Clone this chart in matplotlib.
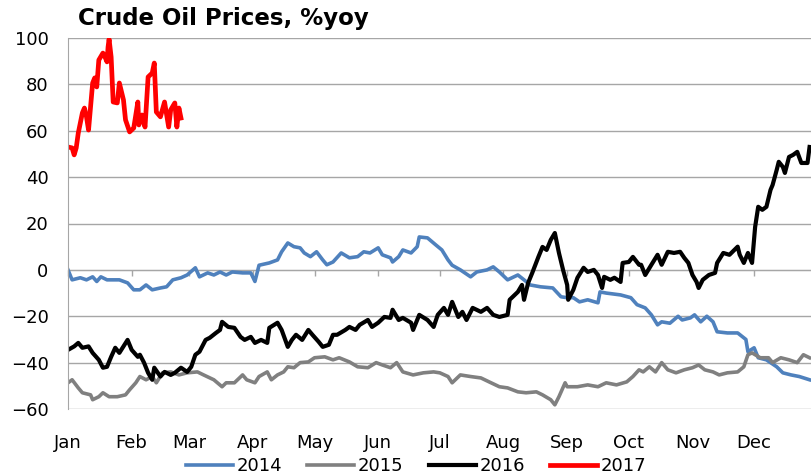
import matplotlib
matplotlib.use('Agg')
import matplotlib.pyplot as plt

plt.rcParams['font.family'] = ['DejaVu Sans']

# month starts (day of year) and labels
month_days = [0, 31, 59, 90, 120, 151, 181, 212, 243, 273, 304, 334]
month_labels = ['Jan', 'Feb', 'Mar', 'Apr', 'May', 'Jun',
                'Jul', 'Aug', 'Sep', 'Oct', 'Nov', 'Dec']

# (day of year, %yoy)
oil_2014 = [(0, 0), (2, -4.3), (6, -3.4), (9, -4.3), (12, -3), (14, -5), (16, -3), (19, -4.3),
            (22, -4.3), (25, -4.3), (29, -5.6), (32, -8.6), (35, -8.6), (38, -6.5), (41, -8.6),
            (45, -7.8), (48, -7.3), (51, -4.3), (55, -3.4), (58, -2.2), (62, 0.9), (64, -3),
            (68, -1.3), (71, -2.2), (74, -0.9), (77, -2.2), (80, -0.9), (85, -1.3), (89, -1.3),
            (91, -5), (93, 2), (98, 3), (102, 4.3), (104, 7.8), (107, 11.6), (110, 10),
            (113, 9.5), (115, 7.3), (118, 5.7), (121, 7.8), (124, 4.3), (126, 2.2), (129, 3.4),
            (133, 7.3), (137, 5.2), (141, 5.7), (144, 7.8), (147, 7.3), (151, 9.5), (153, 6.5),
            (157, 5.2), (158, 3.4), (161, 5.7), (163, 8.6), (167, 7.3), (170, 10), (171, 14.2),
            (175, 13.8), (179, 10.8), (182, 8.6), (185, 4.3), (187, 2), (191, 0), (196, -3),
            (199, -0.9), (204, 0), (207, 1.3), (210, -0.9), (214, -4.3), (219, -2.2),
            (222, -4.3), (225, -6.5), (230, -7.3), (236, -7.8), (240, -11.6), (243, -12),
            (246, -12), (249, -13.8), (253, -12.9), (258, -14.2), (259, -9.5), (262, -10),
            (269, -10.8), (274, -12), (277, -15), (281, -16.4), (284, -19.4), (287, -23.7),
            (289, -22.4), (293, -23), (297, -20), (299, -21.6), (303, -20.7), (305, -19.4),
            (308, -22.4), (311, -20), (314, -22.4), (316, -26.7), (321, -27.2), (326, -27.2),
            (330, -30), (331, -35.3), (334, -33.6), (336, -37.9), (340, -38.8), (345, -41.8),
            (348, -44.4), (352, -45.3), (356, -46), (361, -47.4)]

oil_2015 = [(0, -48.7), (2, -47.4), (5, -50.9), (7, -53), (11, -53.9), (12, -56), (15, -54.7),
            (17, -53), (20, -54.7), (24, -54.7), (28, -53.9), (30, -51.7), (33, -48.7),
            (35, -46), (38, -47.4), (41, -46), (43, -48.7), (46, -44.4), (50, -44), (54, -45.3),
            (58, -44.4), (63, -44), (66, -45.3), (71, -47.4), (75, -50.4), (77, -48.7),
            (81, -48.7), (85, -45.3), (87, -47.4), (91, -48.7), (93, -46), (97, -44),
            (99, -47.4), (102, -45.3), (105, -44), (107, -41.8), (110, -42.2), (113, -40),
            (117, -39.7), (120, -37.9), (125, -37.5), (129, -38.8), (132, -37.9), (137, -39.7),
            (141, -41.8), (146, -42.2), (150, -40), (153, -41), (157, -42.2), (160, -40),
            (163, -44), (168, -45.3), (173, -44.4), (178, -44), (181, -44.4), (185, -46),
            (187, -48.7), (191, -45.3), (196, -46), (201, -46.6), (205, -48.3), (210, -50.4),
            (214, -50.9), (219, -52.6), (223, -53), (228, -52.6), (231, -53.9), (235, -56),
            (237, -58.2), (239, -54.7), (242, -48.7), (243, -50.4), (248, -50.4), (253, -49.6),
            (258, -50.4), (262, -48.7), (267, -49.6), (272, -48.3), (275, -46), (278, -43.1),
            (280, -44), (283, -41.8), (286, -44), (289, -40), (292, -43.1), (296, -44.4),
            (300, -43.1), (304, -42.2), (307, -41), (310, -43.1), (314, -44), (317, -45.3),
            (321, -44.4), (326, -44), (329, -41.8), (331, -36.6), (333, -35.8), (337, -37.9),
            (341, -37.9), (343, -40), (347, -37.9), (351, -38.8), (355, -40), (358, -36.6),
            (361, -37.9)]

oil_2016 = [(0, -34.5), (3, -33), (5, -31.5), (7, -33.6), (10, -33), (12, -35.8), (15, -38.8),
            (17, -42.2), (19, -41.8), (21, -37.5), (23, -33.6), (25, -35.8), (29, -30.2),
            (31, -34.5), (34, -37.5), (35, -36.6), (37, -40), (39, -44.4), (41, -47.4),
            (42, -42.2), (45, -46), (47, -44), (50, -45.3), (52, -44.4), (55, -42.2), (58, -44),
            (60, -41.8), (62, -36.6), (64, -35.3), (67, -30.2), (69, -29.3), (72, -27.2),
            (74, -25.9), (75, -22.4), (78, -24.6), (81, -25), (84, -28.9), (86, -30.2),
            (89, -28.9), (91, -31.5), (94, -30.2), (97, -31.5), (98, -25), (102, -22.8),
            (104, -25.9), (107, -33.2), (109, -30.2), (111, -28), (114, -30.2), (117, -25.9),
            (119, -28), (122, -31), (124, -33.2), (127, -32.3), (129, -28), (131, -28),
            (135, -25.9), (137, -24.6), (140, -25.9), (142, -23.7), (146, -21.6), (148, -24.6),
            (151, -22.8), (154, -20.3), (157, -20.7), (158, -17.2), (161, -21.6), (163, -20.7),
            (167, -22.8), (168, -25.9), (171, -19.4), (175, -21.6), (178, -24.6), (180, -19.4),
            (183, -16.4), (185, -19.4), (187, -13.8), (190, -20.3), (192, -18.1), (194, -21.6),
            (197, -16.4), (201, -18.1), (204, -16.4), (207, -19.4), (210, -20.3), (214, -19.4),
            (215, -12.9), (219, -9.5), (221, -6.5), (222, -12.9), (224, -5.6), (226, -1.3),
            (229, 5.6), (231, 9.9), (233, 8.6), (235, 12.9), (237, 15.9), (239, 7.3), (241, 0),
            (243, -6.5), (243.5, -12.9), (246, -8.6), (248, -3.4), (251, 0.9), (253, -0.9),
            (256, 0), (258, -2.2), (260, -7.8), (261, -3), (264, -4.3), (266, -3.4), (269, -5.2),
            (270, 3), (273, 3.4), (275, 5.6), (278, 2.2), (279, 2.2), (281, -2.2), (284, 2.2),
            (287, 6.5), (289, 2.2), (292, 7.8), (295, 7.3), (298, 7.8), (300, 5.2), (302, 3),
            (304, -2.2), (306, -5.2), (307, -7.8), (309, -4.3), (312, -2.2), (315, -1.3),
            (316, 3), (319, 7.3), (322, 6.5), (326, 10), (327, 6.5), (329, 3), (331, 7.3),
            (333, 3), (334.5, 18.5), (336, 27.2), (338, 25.9), (340, 27.2), (342, 34.5),
            (343, 36.6), (345, 43.1), (346, 46.6), (348, 44.4), (349, 41.8), (351, 48.7),
            (353, 49.6), (355, 50.9), (357, 46.1), (360, 46.1), (361, 53)]

oil_2017 = [(0, 53), (2, 52.6), (3, 49.6), (4, 52.6), (5, 59), (7, 67.7), (8, 69.8), (9, 66),
            (10, 60.3), (12, 80.6), (13, 82.8), (14, 78.9), (15, 90.5), (17, 93.5), (18, 91.8),
            (19, 89.7), (19.5, 96.1), (20, 99.5), (21, 91.8), (22, 72.4), (24, 72), (25, 80.6),
            (27, 73.3), (28, 64.7), (30, 59.5), (32, 61.2), (34, 72.4), (34.5, 62.5), (36, 66.8),
            (37.5, 61.6), (39, 83.2), (41, 84.9), (42, 89.2), (43, 68.1), (45, 66), (47, 72.4),
            (49, 61.6), (50, 69), (52, 72), (53, 61.6), (54, 69.8), (55, 65.5)]

series = [('2014', oil_2014, '#4F81BD', 2.6),
          ('2015', oil_2015, '#808080', 2.6),
          ('2016', oil_2016, '#000000', 3.0),
          ('2017', oil_2017, '#FF0000', 3.4)]

fig = plt.figure(figsize=(8.11, 4.76), dpi=100)
ax = fig.add_axes([68 / 811, 67 / 476, 743 / 811, 371 / 476])

for name, pts, color, lw in series:
    x = [p[0] for p in pts]
    y = [p[1] for p in pts]
    ax.plot(x, y, color=color, lw=lw, label=name, solid_joinstyle='round')

ax.set_xlim(0, 361.7)
ax.set_ylim(-60, 100)
ax.set_yticks(range(-60, 101, 20))
ax.grid(axis='y', color='#A6A6A6', lw=1)
ax.set_axisbelow(True)
for s in ['top', 'right', 'bottom']:
    ax.spines[s].set_visible(False)
ax.spines['left'].set_color('#A6A6A6')
ax.tick_params(axis='y', length=0, pad=14, labelsize=13)
ax.set_xticks(month_days, month_labels)
ax.tick_params(axis='x', length=0, pad=18, labelsize=13)

# horizontal axis line crossing at zero with tick marks
sec = ax.secondary_xaxis((0 + 60) / 160)
sec.set_xticks(month_days, labels=[''] * len(month_days))
sec.tick_params(length=4, color='#A6A6A6', width=1)
sec.spines['bottom'].set_color('#A6A6A6')

fig.text(78 / 811, 1 - 19 / 476, 'Crude Oil Prices, %yoy', fontsize=16.5,
         fontweight='bold', va='center', ha='left')

fig.legend(loc='center', bbox_to_anchor=(416 / 811, 1 - 466 / 476), ncol=4,
           frameon=False, fontsize=13, handlelength=2.6, handletextpad=0.2,
           columnspacing=1.4)

fig.savefig('out.png', dpi=100)
